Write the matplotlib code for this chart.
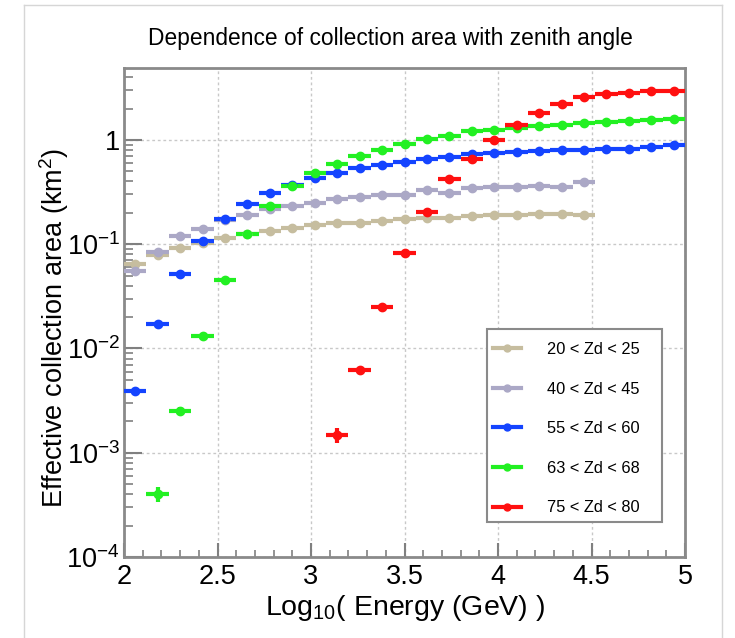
import numpy as np
import matplotlib.pyplot as plt
from matplotlib.lines import Line2D
from matplotlib.patches import Rectangle
from matplotlib.ticker import FixedLocator, FixedFormatter, MultipleLocator

plt.rcParams['font.family'] = ['Liberation Sans', 'DejaVu Sans']
plt.rcParams['mathtext.fontset'] = 'custom'
plt.rcParams['mathtext.rm'] = 'Liberation Sans'
plt.rcParams['mathtext.it'] = 'Liberation Sans:italic'
plt.rcParams['mathtext.bf'] = 'Liberation Sans:bold'

# binning: 25 bins in log10(E) from 2 to 5
edges = np.linspace(2.0, 5.0, 26)
centers = 0.5 * (edges[:-1] + edges[1:])
halfw = 0.5 * (edges[1] - edges[0])

labels = ['20 < Zd < 25', '40 < Zd < 45', '55 < Zd < 60', '63 < Zd < 68', '75 < Zd < 80']
colors = ['#c6bd9f', '#aba8c6', '#1444ff', '#22f022', '#ff1010']
first_bin = [0, 0, 0, 1, 9]

zd20 = [0.064, 0.078, 0.092, 0.103, 0.115, 0.125, 0.133, 0.143, 0.154, 0.160, 0.160,
        0.166, 0.175, 0.177, 0.177, 0.185, 0.192, 0.190, 0.195, 0.195, 0.190]
zd40 = [0.055, 0.085, 0.120, 0.140, 0.170, 0.192, 0.216, 0.235, 0.251, 0.272, 0.284,
        0.297, 0.297, 0.330, 0.313, 0.345, 0.352, 0.352, 0.360, 0.352, 0.391]
zd55 = [0.00388, 0.017, 0.0515, 0.108, 0.176, 0.245, 0.309, 0.370, 0.428, 0.477, 0.533,
        0.574, 0.610, 0.656, 0.690, 0.728, 0.745, 0.760, 0.778, 0.800, 0.800, 0.819,
        0.819, 0.850, 0.895]
zd63 = [0.000404, 0.00252, 0.0131, 0.0458, 0.125, 0.233, 0.363, 0.477, 0.583, 0.697,
        0.801, 0.909, 1.016, 1.085, 1.22, 1.25, 1.30, 1.355, 1.385, 1.448, 1.48, 1.52,
        1.55, 1.58]
zd75 = [0.00148, 0.00618, 0.0248, 0.083, 0.204, 0.418, 0.652, 0.993, 1.385, 1.82, 2.22,
        2.58, 2.77, 2.84, 2.92, 2.92]

# visible vertical errors (only the low-statistics bins show them)
err63 = [0.00007, 0.0002] + [0.0] * 22
err75 = [0.00025, 0.0005] + [0.0] * 14

series = [zd20, zd40, zd55, zd63, zd75]
errors = [None, None, None, err63, err75]

ytick_vals = [1e-4, 1e-3, 1e-2, 1e-1, 1]
ytick_labels = ['$10^{-4}$', '$10^{-3}$', '$10^{-2}$', '$10^{-1}$', '1']

fig = plt.figure(figsize=(7.35, 6.38), dpi=100)
W, H = 735.0, 638.0
ax = fig.add_axes([124 / W, 1 - 557 / H, (685 - 124) / W, (557 - 68) / H])

for vals, err, c, k0 in zip(series, errors, colors, first_bin):
    x = centers[k0:k0 + len(vals)]
    ax.errorbar(x, vals, xerr=halfw, yerr=err, fmt='o', color=c, ms=6,
                elinewidth=3, capsize=0, zorder=3)

ax.set_yscale('log')
ax.set_xlim(2, 5)
ax.set_ylim(1e-4, 4.9)

ax.yaxis.set_major_locator(FixedLocator(ytick_vals))
ax.yaxis.set_major_formatter(FixedFormatter(ytick_labels))
minors = [m * 10.0 ** e for e in range(-4, 1) for m in range(2, 10)]
ax.yaxis.set_minor_locator(FixedLocator([v for v in minors if v < 4.9]))
ax.yaxis.set_minor_formatter(FixedFormatter([]))
ax.xaxis.set_major_locator(MultipleLocator(0.5))
ax.xaxis.set_minor_locator(MultipleLocator(0.1))
ax.xaxis.set_major_formatter(plt.FuncFormatter(lambda v, p: ('%g' % v)))

ax.tick_params(axis='both', which='both', direction='in', colors='#808080',
               labelcolor='black', labelsize=19.5)
ax.tick_params(axis='y', which='major', length=13, width=1.5, pad=3)
ax.tick_params(axis='y', which='minor', length=6.5, width=1.2)
ax.tick_params(axis='x', which='major', length=10, width=1.5, pad=5)
ax.tick_params(axis='x', which='minor', length=5, width=1.2)

ax.grid(True, which='major', color='#c8c8c8', linestyle=(0, (2, 2)), linewidth=1)
ax.set_axisbelow(True)
for s in ax.spines.values():
    s.set_color('#8a8a8a')
    s.set_linewidth(2)

fig.text(390 / W, 1 - 38 / H, 'Dependence of collection area with zenith angle',
         ha='center', va='center', fontsize=16.4)
fig.text(405 / W, 1 - 615 / H, 'Log$_{10}$( Energy (GeV) )', ha='center',
         va='baseline', fontsize=20.5)
fig.text(54 / W, 1 - 328 / H, 'Effective collection area (km$^{2}$)', ha='center',
         va='center', rotation=90, fontsize=19.5)

# legend box drawn separately, entries placed inside it
fig.add_artist(Rectangle((487 / W, 1 - 522 / H), 175 / W, 193 / H,
                         transform=fig.transFigure, facecolor='white',
                         edgecolor='#8a8a8a', linewidth=1.5, zorder=5))
handles = [Line2D([], [], color=c, marker='o', ms=5, lw=3) for c in colors]
leg = fig.legend(handles, labels, loc='upper left',
                 bbox_to_anchor=(493 / W, 1 - 342 / H),
                 bbox_transform=fig.transFigure, borderaxespad=0, borderpad=0,
                 fontsize=11.8, handlelength=1.7, handletextpad=1.6,
                 labelspacing=1.5, frameon=False)
leg.set_zorder(6)

# canvas outline
for xs, ys in [([24 / W, 24 / W], [0, 1 - 5 / H]),
               ([24 / W, 722 / W], [1 - 5 / H, 1 - 5 / H]),
               ([722 / W, 722 / W], [0, 1 - 5 / H])]:
    fig.add_artist(Line2D(xs, ys, transform=fig.transFigure, color='#d6d6d6', lw=1))

fig.savefig('out.png', dpi=100)
